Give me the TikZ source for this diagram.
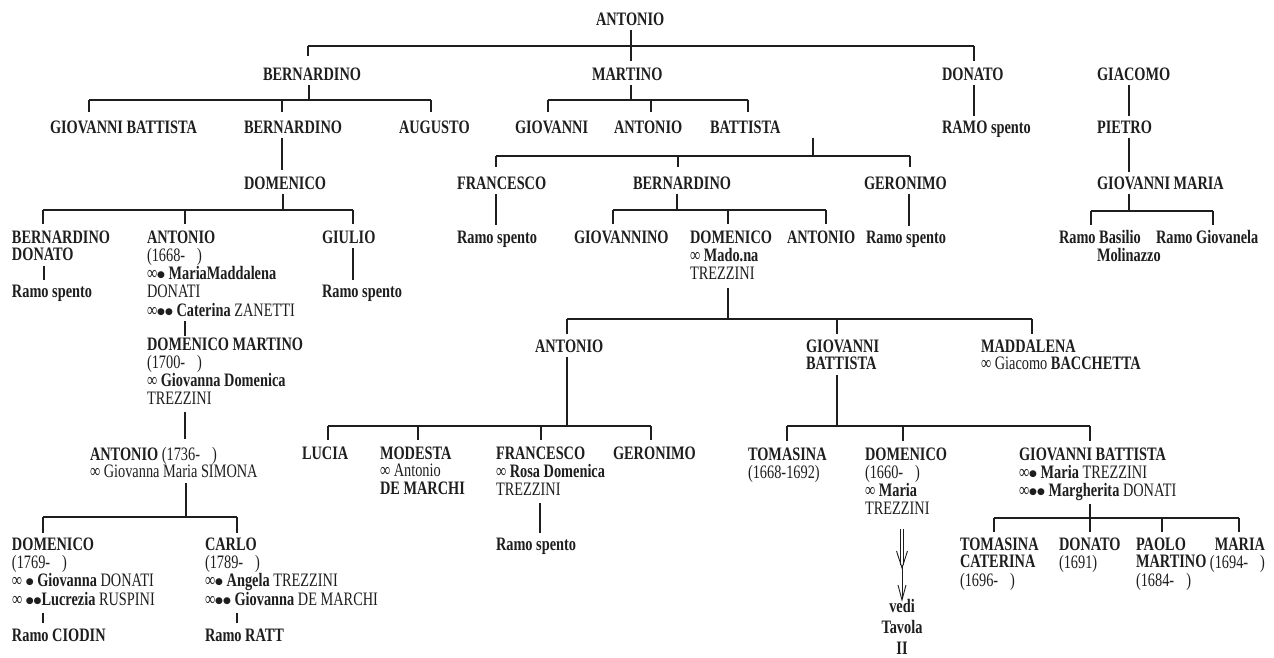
\documentclass[tikz,border=0pt]{standalone}
\usepackage{fontspec}
\setmainfont{Liberation Serif}[FakeStretch=0.755]
\newfontfamily\dotfont{DejaVu Sans}
\usepackage{array}
\newcommand\nm[1]{\textbf{#1}}
\newcommand\gp{\hspace{12pt}}
\newcommand\dt{\raisebox{2pt}{\dotfont\fontsize{9}{9}\selectfont ●}}
\newcommand\tL[1]{\begin{tabular}[t]{@{}l@{}}#1\end{tabular}}
\newcommand\tC[1]{\begin{tabular}[t]{@{}c@{}}#1\end{tabular}}
\newcommand\tR[1]{\begin{tabular}[t]{@{}r@{}}#1\end{tabular}}
\definecolor{ink}{HTML}{1E1E1E}
\tikzset{
  person/.style={anchor=base west, inner sep=0pt, outer sep=0pt, text=ink,
    font=\fontsize{19}{17.5}\selectfont},
  link/.style={draw=ink, line width=1.3pt},
  drop/.style={link, shorten >=#1},
  drop/.default=8pt
}
\begin{document}
\begin{tikzpicture}[x=1pt,y=-1pt]
\useasboundingbox[fill=white] (0,0) rectangle (1274,657);

% ---------- nodes ----------
\node[person] (n0) at (596,25) {\tL{\nm{ANTONIO}}};

\node[person] (b2) at (263,80) {\tL{\nm{BERNARDINO}}};
\node[person] (m2) at (592,80) {\tL{\nm{MARTINO}}};
\node[person] (d2) at (942,80) {\tL{\nm{DONATO}}};
\node[person] (g2) at (1097,80) {\tL{\nm{GIACOMO}}};

\node[person] (gb3) at (50,133) {\tL{\nm{GIOVANNI BATTISTA}}};
\node[person] (b3) at (244,133) {\tL{\nm{BERNARDINO}}};
\node[person] (au3) at (399,133) {\tL{\nm{AUGUSTO}}};
\node[person] (gi3) at (515,133) {\tL{\nm{GIOVANNI}}};
\node[person] (an3) at (614,133) {\tL{\nm{ANTONIO}}};
\node[person] (ba3) at (710,133) {\tL{\nm{BATTISTA}}};
\node[person] (rs3) at (942,133) {\tL{\nm{RAMO spento}}};
\node[person] (pi3) at (1097,133) {\tL{\nm{PIETRO}}};

\node[person] (do4) at (244,189) {\tL{\nm{DOMENICO}}};
\node[person] (fr4) at (457,189) {\tL{\nm{FRANCESCO}}};
\node[person] (be4) at (633,189) {\tL{\nm{BERNARDINO}}};
\node[person] (ge4) at (864,189) {\tL{\nm{GERONIMO}}};
\node[person] (gm4) at (1097,189) {\tL{\nm{GIOVANNI MARIA}}};

\node[person] (bd5) at (12,243) {\tL{\nm{BERNARDINO}\\\nm{DONATO}}};
\node[person] (an5) at (147,243) {\tL{\nm{ANTONIO}\\(1668-\gp)\\∞\dt\ \nm{MariaMaddalena}\\DONATI\\∞\dt\dt\ \nm{Caterina} ZANETTI}};
\node[person] (gu5) at (322,243) {\tL{\nm{GIULIO}}};
\node[person] (rsF) at (457,243) {\tL{\nm{Ramo spento}}};
\node[person] (gv5) at (574,243) {\tL{\nm{GIOVANNINO}}};
\node[person] (dm5) at (690,243) {\tL{\nm{DOMENICO}\\∞ \nm{Mado.na}\\TREZZINI}};
\node[person] (at5) at (787,243) {\tL{\nm{ANTONIO}}};
\node[person] (rsG) at (866,243) {\tL{\nm{Ramo spento}}};
\node[person] (rb5) at (1059,243) {\tL{\nm{Ramo Basilio}\\\hspace*{38pt}\nm{Molinazzo}}};
\node[person] (rg5) at (1156,243) {\tL{\nm{Ramo Giovanela}}};

\node[person] (rsB) at (12,297) {\tL{\nm{Ramo spento}}};
\node[person] (rsU) at (322,297) {\tL{\nm{Ramo spento}}};

\node[person] (dmm) at (147,350) {\tL{\nm{DOMENICO MARTINO}\\(1700-\gp)\\∞ \nm{Giovanna Domenica}\\TREZZINI}};
\node[person] (an6) at (535,352) {\tL{\nm{ANTONIO}}};
\node[person] (gb6) at (806,352) {\tL{\nm{GIOVANNI}\\\nm{BATTISTA}}};
\node[person] (ma6) at (981,352) {\tL{\nm{MADDALENA}\\∞ Giacomo \nm{BACCHETTA}}};

\node[person] (an7) at (90,460) {\tL{\nm{ANTONIO} (1736-\gp)\\∞ Giovanna Maria SIMONA}};
\node[person] (lu7) at (302,459) {\tL{\nm{LUCIA}}};
\node[person] (mo7) at (380,459) {\tL{\nm{MODESTA}\\∞ Antonio\\\nm{DE MARCHI}}};
\node[person] (fc7) at (496,459) {\tL{\nm{FRANCESCO}\\∞ \nm{Rosa Domenica}\\TREZZINI}};
\node[person] (ge7) at (613,459) {\tL{\nm{GERONIMO}}};
\node[person] (to7) at (748,460) {\tL{\nm{TOMASINA}\\(1668-1692)}};
\node[person] (dm7) at (865,460) {\tL{\nm{DOMENICO}\\(1660-\gp)\\∞ \nm{Maria}\\TREZZINI}};
\node[person] (gb7) at (1019,460) {\tL{\nm{GIOVANNI BATTISTA}\\∞\dt\ \nm{Maria} TREZZINI\\∞\dt\dt\ \nm{Margherita} DONATI}};

\node[person] (rs7) at (496,550) {\tL{\nm{Ramo spento}}};

\node[person] (dm8) at (12,550) {\tL{\nm{DOMENICO}\\(1769-\gp)\\∞ \dt\ \nm{Giovanna} DONATI\\∞ \dt\dt\nm{Lucrezia} RUSPINI}};
\node[person] (ca8) at (205,550) {\tL{\nm{CARLO}\\(1789-\gp)\\∞\dt\ \nm{Angela} TREZZINI\\∞\dt\dt\ \nm{Giovanna} DE MARCHI}};
\node[person] (tc8) at (960,550) {\tL{\nm{TOMASINA}\\\nm{CATERINA}\\(1696-\gp)}};
\node[person] (dn8) at (1059,550) {\tL{\nm{DONATO}\\(1691)}};
\node[person] (pm8) at (1136,550) {\tL{\nm{PAOLO}\\\nm{MARTINO}\\(1684-\gp)}};
\node[person, anchor=base east] (mr8) at (1265,550) {\tR{\nm{MARIA}\\(1694-\gp)}};

\node[person, anchor=base] (vedi) at (902,612) {\tC{\nm{vedi}\\[3pt]\nm{Tavola}\\[3pt]\nm{II}}};

\node[person] (rc) at (12,641) {\tL{\nm{Ramo CIODIN}}};
\node[person] (rr) at (205,641) {\tL{\nm{Ramo RATT}}};

% ---------- connectors ----------
% Antonio
\draw[drop=6pt] (n0.south -| 631,0) -- (m2.north -| 631,0);
\draw[link] (308,46) -- (974,46);
\draw[drop=11.75pt] (308,46) -- (b2.north -| 308,0);
\draw[drop=6pt] (974,46) -- (d2.north -| 974,0);
% Bernardino
\draw[link] (b2.south -| 309,0) -- (309,100);
\draw[link] (89,100) -- (431,100);
\draw[drop] (89,100) -- (gb3.north -| 89,0);
\draw[drop] (282,100) -- (b3.north -| 282,0);
\draw[drop] (431,100) -- (au3.north -| 431,0);
% Martino
\draw[link] (m2.south -| 631,0) -- (631,100);
\draw[link] (548,100) -- (748,100);
\draw[drop] (548,100) -- (gi3.north -| 548,0);
\draw[drop] (651,100) -- (an3.north -| 651,0);
\draw[drop] (748,100) -- (ba3.north -| 748,0);
% Donato, Giacomo
\draw[drop=4pt] (d2.south -| 974,0) -- (rs3.north -| 974,0);
\draw[drop=4pt] (g2.south -| 1129,0) -- (pi3.north -| 1129,0);
\draw[drop=4pt] (pi3.south -| 1129,0) -- (gm4.north -| 1129,0);
% Bernardino -> Domenico
\draw[drop=6pt] (b3.south -| 282,0) -- (do4.north -| 282,0);
% Battista
\draw[link] (ba3.south -| 813,0) -- (813,156);
\draw[link] (496,156) -- (910,156);
\draw[drop=9pt] (496,156) -- (fr4.north -| 496,0);
\draw[drop=9pt] (678,156) -- (be4.north -| 678,0);
\draw[drop=9pt] (910,156) -- (ge4.north -| 910,0);
% Domenico
\draw[link] (do4.south -| 283,0) -- (283,210);
\draw[link] (43,210) -- (353,210);
\draw[drop=6pt] (43,210) -- (bd5.north -| 43,0);
\draw[drop=6pt] (185,210) -- (an5.north -| 185,0);
\draw[drop=6pt] (353,210) -- (gu5.north -| 353,0);
% Francesco, Geronimo
\draw[drop=6pt] (fr4.south -| 496,0) -- (rsF.north -| 496,0);
\draw[drop=5pt] (ge4.south -| 909,0) -- (rsG.north -| 909,0);
% Bernardino (level 4)
\draw[link] (be4.south -| 677,0) -- (677,210);
\draw[link] (613,210) -- (826,210);
\draw[drop=6pt] (613,210) -- (gv5.north -| 613,0);
\draw[drop=6pt] (728,210) -- (dm5.north -| 728,0);
\draw[drop=6pt] (826,210) -- (at5.north -| 826,0);
% Giovanni Maria
\draw[link] (gm4.south -| 1129,0) -- (1129,211);
\draw[link] (1091,211) -- (1213,211);
\draw[drop=5pt] (1091,211) -- (rb5.north -| 1091,0);
\draw[drop=5pt] (1213,211) -- (rg5.north -| 1213,0);
% Ramo spento (left)
\draw[drop=4.75pt] (bd5.south -| 44,0) -- (rsB.north -| 44,0);
\draw[drop=4.75pt] (gu5.south -| 353,0) -- (rsU.north -| 353,0);
% Antonio 1668 line
\draw[drop=1pt] (an5.south -| 185,0) -- (dmm.north -| 185,0);
\draw[drop=7.75pt, shorten <=2pt] (dmm.south -| 185,0) -- (an7.north -| 185,0);
% Domenico (Mado.na)
\draw[link, shorten <=4pt] (dm5.south -| 728,0) -- (728,319);
\draw[link] (567,319) -- (1032,319);
\draw[drop=5pt] (567,319) -- (an6.north -| 567,0);
\draw[drop=5pt] (837,319) -- (gb6.north -| 837,0);
\draw[drop=5pt] (1032,319) -- (ma6.north -| 1032,0);
% Antonio (middle)
\draw[link] (an6.south -| 567,0) -- (567,426);
\draw[link] (328,426) -- (651,426);
\draw[drop=6.5pt] (328,426) -- (lu7.north -| 328,0);
\draw[drop=6.5pt] (418,426) -- (mo7.north -| 418,0);
\draw[drop=6.5pt] (541,426) -- (fc7.north -| 541,0);
\draw[drop=6.5pt] (651,426) -- (ge7.north -| 651,0);
% Giovanni Battista (middle)
\draw[link] (gb6.south -| 837,0) -- (837,426);
\draw[link] (787,426) -- (1090,426);
\draw[drop=6.5pt] (787,426) -- (to7.north -| 787,0);
\draw[drop=6.5pt] (903,426) -- (dm7.north -| 903,0);
\draw[drop=6.5pt] (1090,426) -- (gb7.north -| 1090,0);
% Francesco -> Ramo spento
\draw[drop=4.75pt, shorten <=3pt] (fc7.south -| 540,0) -- (rs7.north -| 540,0);
% Antonio 1736
\draw[link] (an7.south -| 186,0) -- (186,517);
\draw[link] (43,517) -- (237,517);
\draw[drop=4.75pt] (43,517) -- (dm8.north -| 43,0);
\draw[drop=4.75pt] (237,517) -- (ca8.north -| 237,0);
\draw[drop=5.75pt, shorten <=2pt] (dm8.south -| 43,0) -- (rc.north -| 43,0);
\draw[drop=5.75pt, shorten <=2pt] (ca8.south -| 237,0) -- (rr.north -| 237,0);
% Giovanni Battista (right)
\draw[link, shorten <=2pt] (gb7.south -| 1090,0) -- (1090,518);
\draw[link] (994,518) -- (1239,518);
\draw[drop=5.75pt] (994,518) -- (tc8.north -| 994,0);
\draw[drop=5.75pt] (1090,518) -- (dn8.north -| 1090,0);
\draw[drop=5.75pt] (1162,518) -- (pm8.north -| 1162,0);
\draw[drop=5.75pt] (1239,518) -- (mr8.north -| 1239,0);
% Domenico (1660) => vedi Tavola II
\draw[draw=ink, line width=0.9pt, double=white, double distance=2pt, shorten <=9pt]
  (dm7.south -| 902,0) -- (902,565);
\draw[draw=ink, line width=0.9pt] (896.5,551) -- (902,568) -- (907.5,551);
\draw[draw=ink, line width=0.9pt] (902,565) -- (vedi.north -| 902,0);
\draw[draw=ink, line width=0.9pt] (898,585) -- (902,600) -- (906,585);
\end{tikzpicture}
\end{document}
